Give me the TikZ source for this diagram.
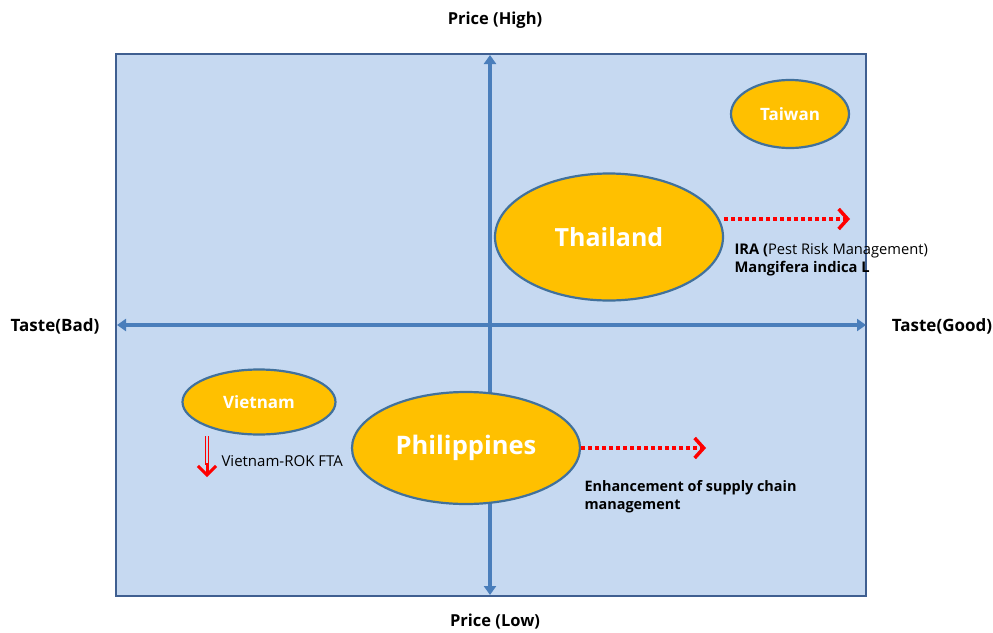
\documentclass[tikz,border=0pt]{standalone}
\usepackage{fontspec}
\setmainfont{Open Sans}
\usepackage{xcolor}
\usetikzlibrary{arrows.meta, shapes.geometric, positioning, calc}

\definecolor{boxfill}{HTML}{C6D9F1}
\definecolor{boxline}{HTML}{3F5F91}
\definecolor{axisblue}{HTML}{4A7EBB}
\definecolor{mango}{HTML}{FFC000}
\definecolor{rimblue}{HTML}{41719C}

\begin{document}
\begin{tikzpicture}[x=1pt, y=-1pt,
    country/.style={ellipse, draw=rimblue, line width=2.2pt, fill=mango,
      text=white, font=\bfseries, inner sep=0pt},
    axislabel/.style={font=\fontsize{17}{20}\selectfont\bfseries},
    note/.style={font=\fontsize{14.7}{18}\selectfont, align=left, anchor=west},
    trend/.style={red, line width=3.5pt, dash pattern=on 3.5pt off 3.5pt,
      -{Straight Barb[length=9pt, width=20pt, line width=3.5pt]}}]
  \useasboundingbox (0,0) rectangle (993,632);

  % Background panel
  \draw[fill=boxfill, draw=boxline, line width=2pt] (116,54) rectangle (866,596);

  % Axes
  \coordinate (top) at (490,55);
  \coordinate (bottom) at (490,595);
  \coordinate (left) at (117,325);
  \coordinate (right) at (866,325);
  \draw[axisblue, line width=3.5pt,
    {Triangle[length=9pt, width=12pt]}-{Triangle[length=9pt, width=12pt]}] (top) -- (bottom);
  \draw[axisblue, line width=3.5pt,
    {Triangle[length=9pt, width=12pt]}-{Triangle[length=9pt, width=12pt]}] (left) -- (right);

  % Axis labels
  \node[axislabel, font=\fontsize{16.5}{20}\selectfont\bfseries] (high) at (495,20) {Price (High)};
  \node[axislabel, font=\fontsize{16.5}{20}\selectfont\bfseries] (low) at (495,622) {Price (Low)};
  \node[axislabel] (bad) at (55,326) {Taste(Bad)};
  \node[axislabel] (good) at (942,326) {Taste(Good)};

  % Countries
  \node[country, minimum width=118pt, minimum height=68pt,
    font=\fontsize{17}{20}\selectfont\bfseries] (taiwan) at (790,114) {Taiwan};
  \node[country, minimum width=228pt, minimum height=127pt,
    font=\fontsize{25}{28}\selectfont\bfseries] (thailand) at (609,237) {Thailand};
  \node[country, minimum width=153pt, minimum height=65pt,
    font=\fontsize{17}{20}\selectfont\bfseries] (vietnam) at (259,402) {Vietnam};
  \node[country, minimum width=228pt, minimum height=112pt,
    font=\fontsize{25.5}{28}\selectfont\bfseries] (philippines) at (466,448) {Philippines};

  % Trends
  \coordinate (thaiend) at (850,219);
  \coordinate (philend) at (706,448);
  \draw[trend] (thailand.east |- thaiend) -- (thaiend);
  \draw[trend] (philippines.east) -- (philend);

  \coordinate (vtop) at (207,436);
  \coordinate (vbot) at (207,477);
  \draw[red, line width=0.9pt, double=boxfill, double distance=2.4pt] (vtop) -- ($(vbot)+(0,-12)$);
  \draw[red, line width=3pt, -{Straight Barb[length=9pt, width=18pt]}] ($(vbot)+(0,-14)$) -- (vbot);

  % Notes
  \node[note] (ira) at (731,260) {\textbf{IRA (}Pest Risk Management)\\\textbf{Mangifera indica L}};
  \node[note, font=\fontsize{15}{18}\selectfont] (fta) at (218,461) {Vietnam-ROK FTA};
  \node[note, font=\fontsize{14.4}{18}\selectfont\bfseries] (supply) at (581,497) {Enhancement of supply chain\\management};
\end{tikzpicture}
\end{document}
